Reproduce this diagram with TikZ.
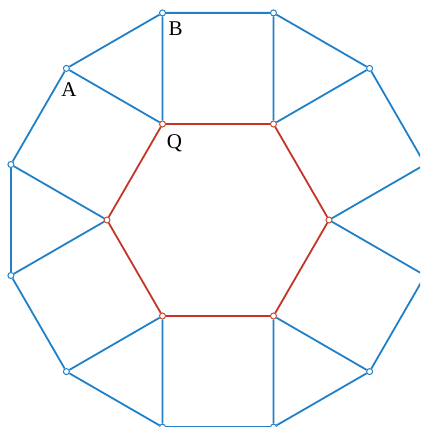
\documentclass[tikz,border=0pt]{standalone}
\usepackage{fontspec}
\setmainfont{Liberation Serif}
\definecolor{eblue}{RGB}{32,128,200}
\definecolor{ered}{RGB}{196,52,40}
\begin{document}
\begin{tikzpicture}[x=1pt,y=-1pt,
  bline/.style={draw=eblue,line width=1.8pt},
  rline/.style={draw=ered,line width=1.8pt},
  bv/.style={circle,draw=eblue,fill=white,line width=1pt,minimum size=6pt,inner sep=0pt},
  rv/.style={circle,draw=ered!70!brown,fill=white,line width=1pt,minimum size=6pt,inner sep=0pt},
  lbl/.style={font=\fontsize{21}{21}\selectfont,inner sep=0pt}]
\clip (0,0) rectangle (420,427);
% hexagon vertices
\node[rv] (Q) at (162.5,124) {};
\node[rv] (H2) at (273.5,124) {};
\node[rv] (H3) at (329,220) {};
\node[rv] (H4) at (273.5,316) {};
\node[rv] (H5) at (162.5,316) {};
\node[rv] (H6) at (107,220) {};
% dodecagon vertices
\node[bv] (D1) at (273.5,12.9) {};
\node[bv] (B) at (162.5,12.9) {};
\node[bv] (A) at (66.4,68.4) {};
\node[bv] (L1) at (10.9,164.5) {};
\node[bv] (L2) at (10.9,275.5) {};
\node[bv] (BL) at (66.4,371.6) {};
\node[bv] (BB1) at (162.5,427.1) {};
\node[bv] (BB2) at (273.5,427.1) {};
\node[bv] (BR) at (369.6,371.6) {};
\node[bv] (R2) at (425.1,275.5) {};
\node[bv] (R1) at (425.1,164.5) {};
\node[bv] (TR) at (369.6,68.4) {};
% dodecagon
\draw[bline] (D1)--(B) (B)--(A) (A)--(L1) (L1)--(L2) (L2)--(BL) (BL)--(BB1)
  (BB1)--(BB2) (BB2)--(BR) (BR)--(R2) (R2)--(R1) (R1)--(TR) (TR)--(D1);
% spokes
\draw[bline] (Q)--(B) (Q)--(A) (H2)--(D1) (H2)--(TR) (H3)--(R1) (H3)--(R2)
  (H4)--(BR) (H4)--(BB2) (H5)--(BB1) (H5)--(BL) (H6)--(L1) (H6)--(L2);
% hexagon
\draw[rline] (Q)--(H2) (H2)--(H3) (H3)--(H4) (H4)--(H5) (H5)--(H6) (H6)--(Q);
% labels
\node[lbl] (lB) at (175.5,29) {B};
\node[lbl] (lA) at (69,90) {A};
\node[lbl] (lQ) at (174.5,143) {Q};
\end{tikzpicture}
\end{document}
